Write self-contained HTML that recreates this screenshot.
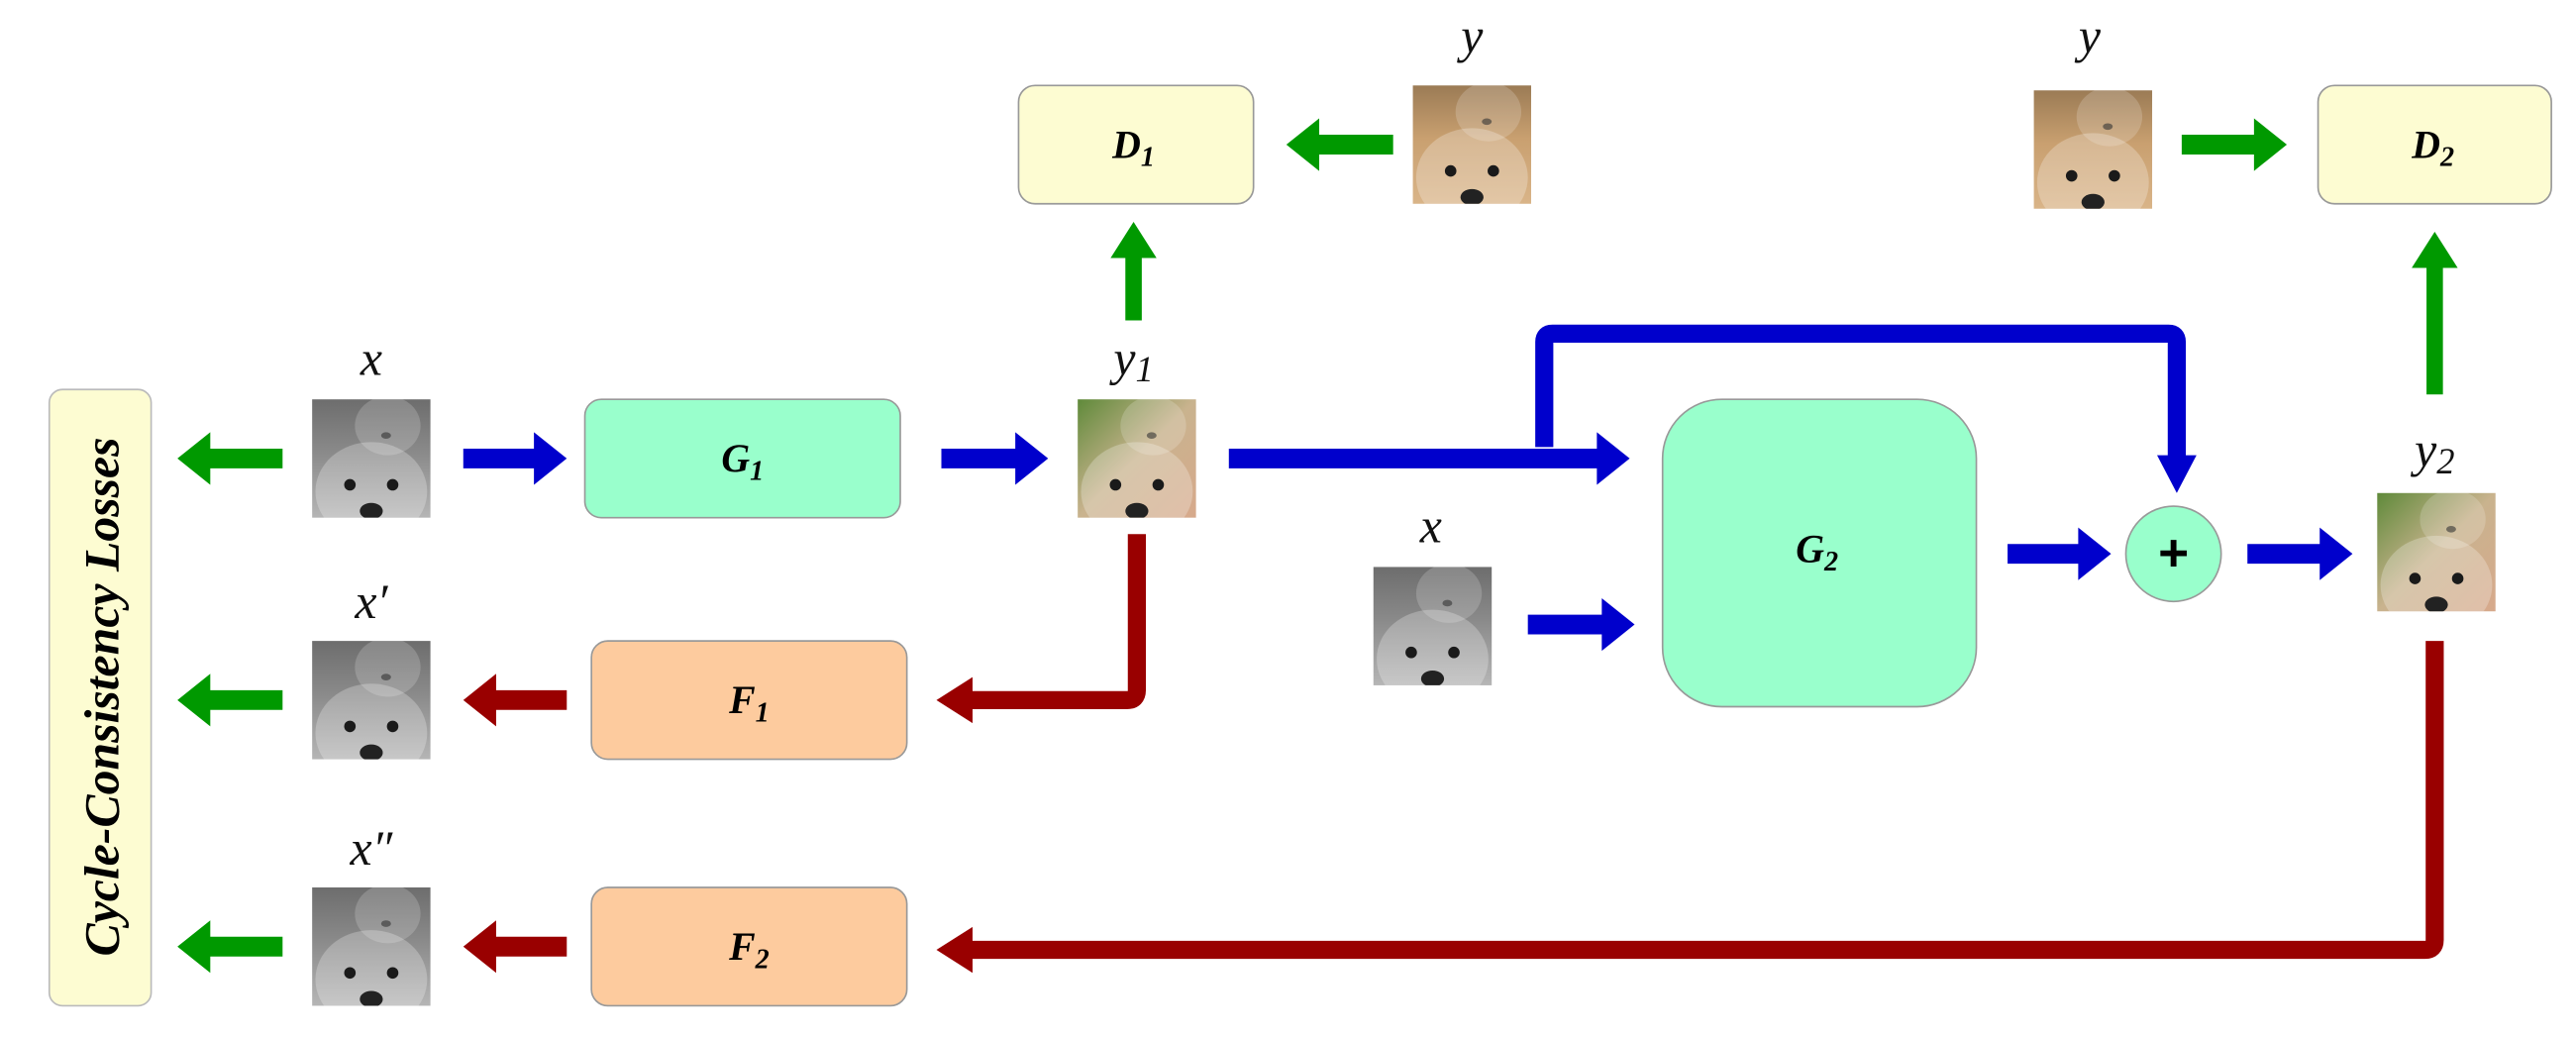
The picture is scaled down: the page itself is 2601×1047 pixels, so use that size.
<!DOCTYPE html>
<html><head><meta charset="utf-8"><style>
html,body{margin:0;padding:0;background:#fff;width:2601px;height:1047px;overflow:hidden}
svg{display:block}
.lbl{font-family:"Liberation Serif",serif;font-style:italic;font-size:30px;fill:#111}
.box{font-family:"Liberation Serif",serif;font-style:italic;font-weight:bold;font-size:24px;fill:#000}
</style></head><body>
<svg width="2601" height="1047" viewBox="0 0 1568 631" preserveAspectRatio="none" xmlns="http://www.w3.org/2000/svg">
<defs>
<linearGradient id="gray" x1="0" y1="0" x2="0" y2="1"><stop offset="0" stop-color="#6d6d6d"/><stop offset="0.45" stop-color="#8a8a8a"/><stop offset="1" stop-color="#b5b5b5"/></linearGradient>
<linearGradient id="tan" x1="0" y1="0" x2="0" y2="1"><stop offset="0" stop-color="#9b7b55"/><stop offset="0.45" stop-color="#c9a070"/><stop offset="1" stop-color="#d9b488"/></linearGradient>
<linearGradient id="mix" x1="0" y1="0" x2="1" y2="1"><stop offset="0" stop-color="#5f8a3a"/><stop offset="0.5" stop-color="#c9b38e"/><stop offset="1" stop-color="#d7a98c"/></linearGradient>
<symbol id="dog" viewBox="0 0 72 72">
<ellipse cx="46" cy="16" rx="20" ry="18" fill="#fff" opacity="0.18"/>
<ellipse cx="36" cy="56" rx="34" ry="30" fill="#fff" opacity="0.25"/>
<circle cx="23" cy="52" r="3.5" fill="#1a1a1a"/><circle cx="49" cy="52" r="3.5" fill="#1a1a1a"/>
<ellipse cx="36" cy="68" rx="7" ry="5" fill="#222"/>
<ellipse cx="45" cy="22" rx="3" ry="2" fill="#333" opacity="0.6"/>
</symbol>
</defs>

<!-- Cycle consistency losses -->
<rect x="30" y="237" width="62" height="375" rx="8" fill="#fdfcd2" stroke="#bbb" stroke-width="1"/>
<text transform="translate(72,424) rotate(-90)" text-anchor="middle" style="font-family:'Liberation Serif',serif;font-style:italic;font-weight:bold;font-size:30px">Cycle-Consistency Losses</text>

<!-- Boxes -->
<rect x="356" y="243" width="192" height="72" rx="10" fill="#99ffcc" stroke="#999" stroke-width="1"/>
<text class="box" x="452" y="287" text-anchor="middle">G<tspan font-size="17" dy="5">1</tspan></text>
<rect x="360" y="390" width="192" height="72" rx="10" fill="#fdcb9e" stroke="#999" stroke-width="1"/>
<text class="box" x="456" y="434" text-anchor="middle">F<tspan font-size="17" dy="5">1</tspan></text>
<rect x="360" y="540" width="192" height="72" rx="10" fill="#fdcb9e" stroke="#999" stroke-width="1"/>
<text class="box" x="456" y="584" text-anchor="middle">F<tspan font-size="17" dy="5">2</tspan></text>
<rect x="620" y="52" width="143" height="72" rx="10" fill="#fdfcd2" stroke="#999" stroke-width="1"/>
<text class="box" x="690" y="96" text-anchor="middle">D<tspan font-size="17" dy="5">1</tspan></text>
<rect x="1411" y="52" width="142" height="72" rx="10" fill="#fdfcd2" stroke="#999" stroke-width="1"/>
<text class="box" x="1481" y="96" text-anchor="middle">D<tspan font-size="17" dy="5">2</tspan></text>
<rect x="1012" y="243" width="191" height="187" rx="36" fill="#99ffcc" stroke="#999" stroke-width="1"/>
<text class="box" x="1106" y="342" text-anchor="middle">G<tspan font-size="17" dy="5">2</tspan></text>
<circle cx="1323" cy="337" r="29" fill="#99ffcc" stroke="#999" stroke-width="1"/>
<text x="1323" y="347" text-anchor="middle" style="font-family:'Liberation Sans',sans-serif;font-weight:bold;font-size:32px">+</text>

<!-- Images -->
<g><rect x="190" y="243" width="72" height="72" fill="url(#gray)"/><use href="#dog" x="190" y="243" width="72" height="72"/></g>
<g><rect x="190" y="390" width="72" height="72" fill="url(#gray)"/><use href="#dog" x="190" y="390" width="72" height="72"/></g>
<g><rect x="190" y="540" width="72" height="72" fill="url(#gray)"/><use href="#dog" x="190" y="540" width="72" height="72"/></g>
<g><rect x="656" y="243" width="72" height="72" fill="url(#mix)"/><use href="#dog" x="656" y="243" width="72" height="72"/></g>
<g><rect x="860" y="52" width="72" height="72" fill="url(#tan)"/><use href="#dog" x="860" y="52" width="72" height="72"/></g>
<g><rect x="1238" y="55" width="72" height="72" fill="url(#tan)"/><use href="#dog" x="1238" y="55" width="72" height="72"/></g>
<g><rect x="836" y="345" width="72" height="72" fill="url(#gray)"/><use href="#dog" x="836" y="345" width="72" height="72"/></g>
<g><rect x="1447" y="300" width="72" height="72" fill="url(#mix)"/><use href="#dog" x="1447" y="300" width="72" height="72"/></g>

<!-- Labels -->
<text class="lbl" x="226" y="228" text-anchor="middle">x</text>
<text class="lbl" x="226" y="376" text-anchor="middle">x′</text>
<text class="lbl" x="226" y="526" text-anchor="middle">x″</text>
<text class="lbl" x="690" y="228" text-anchor="middle">y<tspan font-size="22" dy="4">1</tspan></text>
<text class="lbl" x="896" y="32" text-anchor="middle">y</text>
<text class="lbl" x="1272" y="32" text-anchor="middle">y</text>
<text class="lbl" x="871" y="330" text-anchor="middle">x</text>
<text class="lbl" x="1482" y="284" text-anchor="middle">y<tspan font-size="22" dy="4">2</tspan></text>

<!-- Arrows: green -->
<g fill="#009900">
<polygon points="172,273 128,273 128,263 108,279 128,295 128,285 172,285"/>
<polygon points="172,420 128,420 128,410 108,426 128,442 128,432 172,432"/>
<polygon points="172,570 128,570 128,560 108,576 128,592 128,582 172,582"/>
<polygon points="848,82 803,82 803,72 783,88 803,104 803,94 848,94"/>
<polygon points="1328,82 1372,82 1372,72 1392,88 1372,104 1372,94 1328,94"/>
<polygon points="685,195 685,157 676,157 690,135 704,157 695,157 695,195"/>
<polygon points="1477,240 1477,163 1468,163 1482,141 1496,163 1487,163 1487,240"/>
</g>
<!-- Arrows: blue -->
<g fill="#0000cc">
<polygon points="282,273 325,273 325,263 345,279 325,295 325,285 282,285"/>
<polygon points="573,273 618,273 618,263 638,279 618,295 618,285 573,285"/>
<polygon points="748,273 972,273 972,263 992,279 972,295 972,285 748,285"/>
<polygon points="930,374 975,374 975,364 995,380 975,396 975,386 930,386"/>
<polygon points="1222,331 1265,331 1265,321 1285,337 1265,353 1265,343 1222,343"/>
<polygon points="1368,331 1412,331 1412,321 1432,337 1412,353 1412,343 1368,343"/>
<path d="M940,272 V208 Q940,203 945,203 H1320 Q1325,203 1325,208 V278" fill="none" stroke="#0000cc" stroke-width="11"/>
<polygon points="1313,277 1337,277 1325,300"/>
</g>
<!-- Arrows: red -->
<g fill="#990000">
<polygon points="345,420 302,420 302,410 282,426 302,442 302,432 345,432"/>
<polygon points="345,570 302,570 302,560 282,576 302,592 302,582 345,582"/>
<path d="M692,325 V420 Q692,426 686,426 H590" fill="none" stroke="#990000" stroke-width="11"/>
<polygon points="592,412 592,440 570,426"/>
<path d="M1482,390 V572 Q1482,578 1476,578 H590" fill="none" stroke="#990000" stroke-width="11"/>
<polygon points="592,564 592,592 570,578"/>
</g>
</svg>
</body></html>
